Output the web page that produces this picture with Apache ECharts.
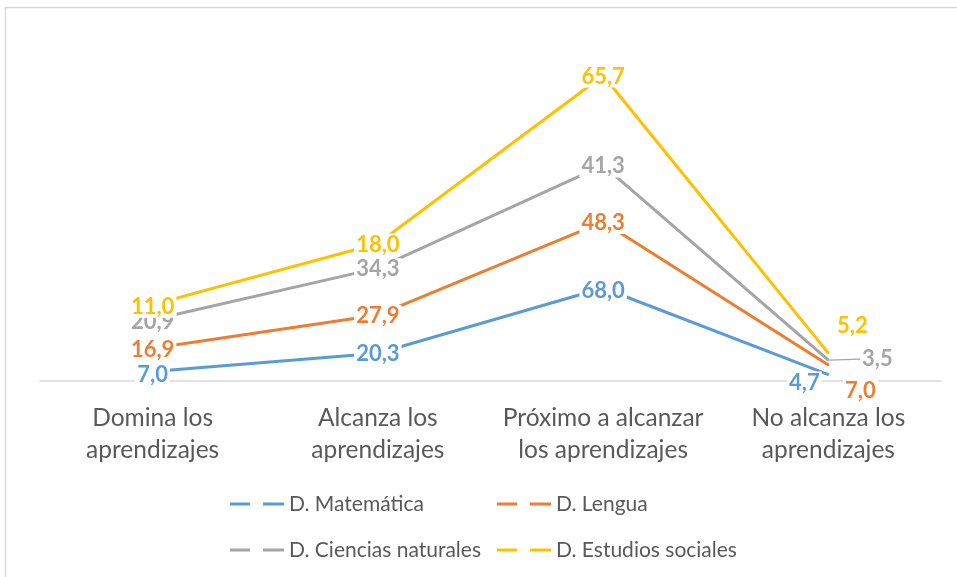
<!DOCTYPE html>
<html>
<head>
<meta charset="utf-8">
<script src="https://cdn.jsdelivr.net/npm/echarts@6/dist/echarts.min.js"></script>
<style>
html,body{margin:0;padding:0;background:#fff;}
#chart{width:957px;height:577px;}
</style>
</head>
<body>
<div id="chart"></div>
<script>
const categories = ['Domina los\naprendizajes', 'Alcanza los\naprendizajes', 'Próximo a alcanzar\nlos aprendizajes', 'No alcanza los\naprendizajes'];
const seriesNames = ['D. Matemática', 'D. Lengua', 'D. Ciencias naturales', 'D. Estudios sociales'];
const matematica = [7.0, 20.3, 68.0, 4.7];
const lengua = [16.9, 27.9, 48.3, 7.0];
const ciencias = [20.9, 34.3, 41.3, 3.5];
const sociales = [11.0, 18.0, 65.7, 5.2];

const values = [matematica, lengua, ciencias, sociales];
const colors = ['#5B9BD5', '#ED7D31', '#A5A5A5', '#FFC000'];
// label shifts (px) relative to point
const shifts = [
  [[0, 3], [0, 1], [0, 3], [-24, 8]],
  [[0, 2], [0, 1], [0, 1], [32, 26]],
  [[0, 2], [0, 1], [0, 1], [49, -1]],
  [[0, 2], [0, 1], [0, 1], [24, -27]]
];
const leader = [[], [], [3], []];

const fmt = v => v.toFixed(1).replace('.', ',');

const series = values.map((arr, si) => ({
  name: seriesNames[si],
  type: 'line',
  stack: 'total',
  symbol: 'circle',
  symbolSize: 2,
  color: colors[si],
  itemStyle: { color: colors[si] },
  lineStyle: { color: colors[si], width: 3 },
  data: arr.map((v, i) => leader[si].includes(i)
    ? { value: v, labelLine: { show: true, lineStyle: { color: colors[si], width: 1.2 } } }
    : v),
  label: {
    show: true,
    position: 'inside',
    formatter: p => fmt(p.value),
    color: colors[si],
    fontFamily: 'Lato',
    fontWeight: 'bold',
    fontSize: 22,
    backgroundColor: '#fff',
    padding: [0, 2]
  },
  labelLine: { show: false },
  labelLayout: p => ({ dx: shifts[si][p.dataIndex][0], dy: shifts[si][p.dataIndex][1] }),
  emphasis: { disabled: true },
  animation: false
}));

const legendPos = [[230, 491], [497, 491], [230, 537], [497, 537]];
const legends = seriesNames.map((n, i) => ({
  data: [n],
  left: legendPos[i][0],
  top: legendPos[i][1],
  padding: 0,
  itemWidth: 54,
  itemHeight: 3,
  itemGap: 0,
  icon: 'path://M0,0H20V3H0Z M33,0H54V3H33Z',
  selectedMode: false,
  textStyle: { color: '#595959', fontFamily: 'Lato', fontSize: 21, lineHeight: 26 }
}));

const chart = echarts.init(document.getElementById('chart'), null, { renderer: 'canvas' });
chart.setOption({
  animation: false,
  backgroundColor: '#fff',
  graphic: [{
    type: 'rect', shape: { x: 5.5, y: 7.5, width: 1000, height: 700 },
    style: { fill: 'none', stroke: '#d9d9d9', lineWidth: 1.5 }, silent: true, z: -1
  }],
  grid: { left: 40, right: 16, top: 39, bottom: 196 },
  legend: legends,
  xAxis: {
    type: 'category',
    data: categories,
    boundaryGap: true,
    axisLine: { lineStyle: { color: '#d9d9d9', width: 1.5 } },
    axisTick: { show: false },
    axisLabel: { color: '#595959', fontFamily: 'Lato', fontSize: 24.5, lineHeight: 32, margin: 21, interval: 0 }
  },
  yAxis: { type: 'value', min: 0, max: 250, interval: 50, show: false, splitLine: { show: false } },
  series: series
});
</script>
</body>
</html>
